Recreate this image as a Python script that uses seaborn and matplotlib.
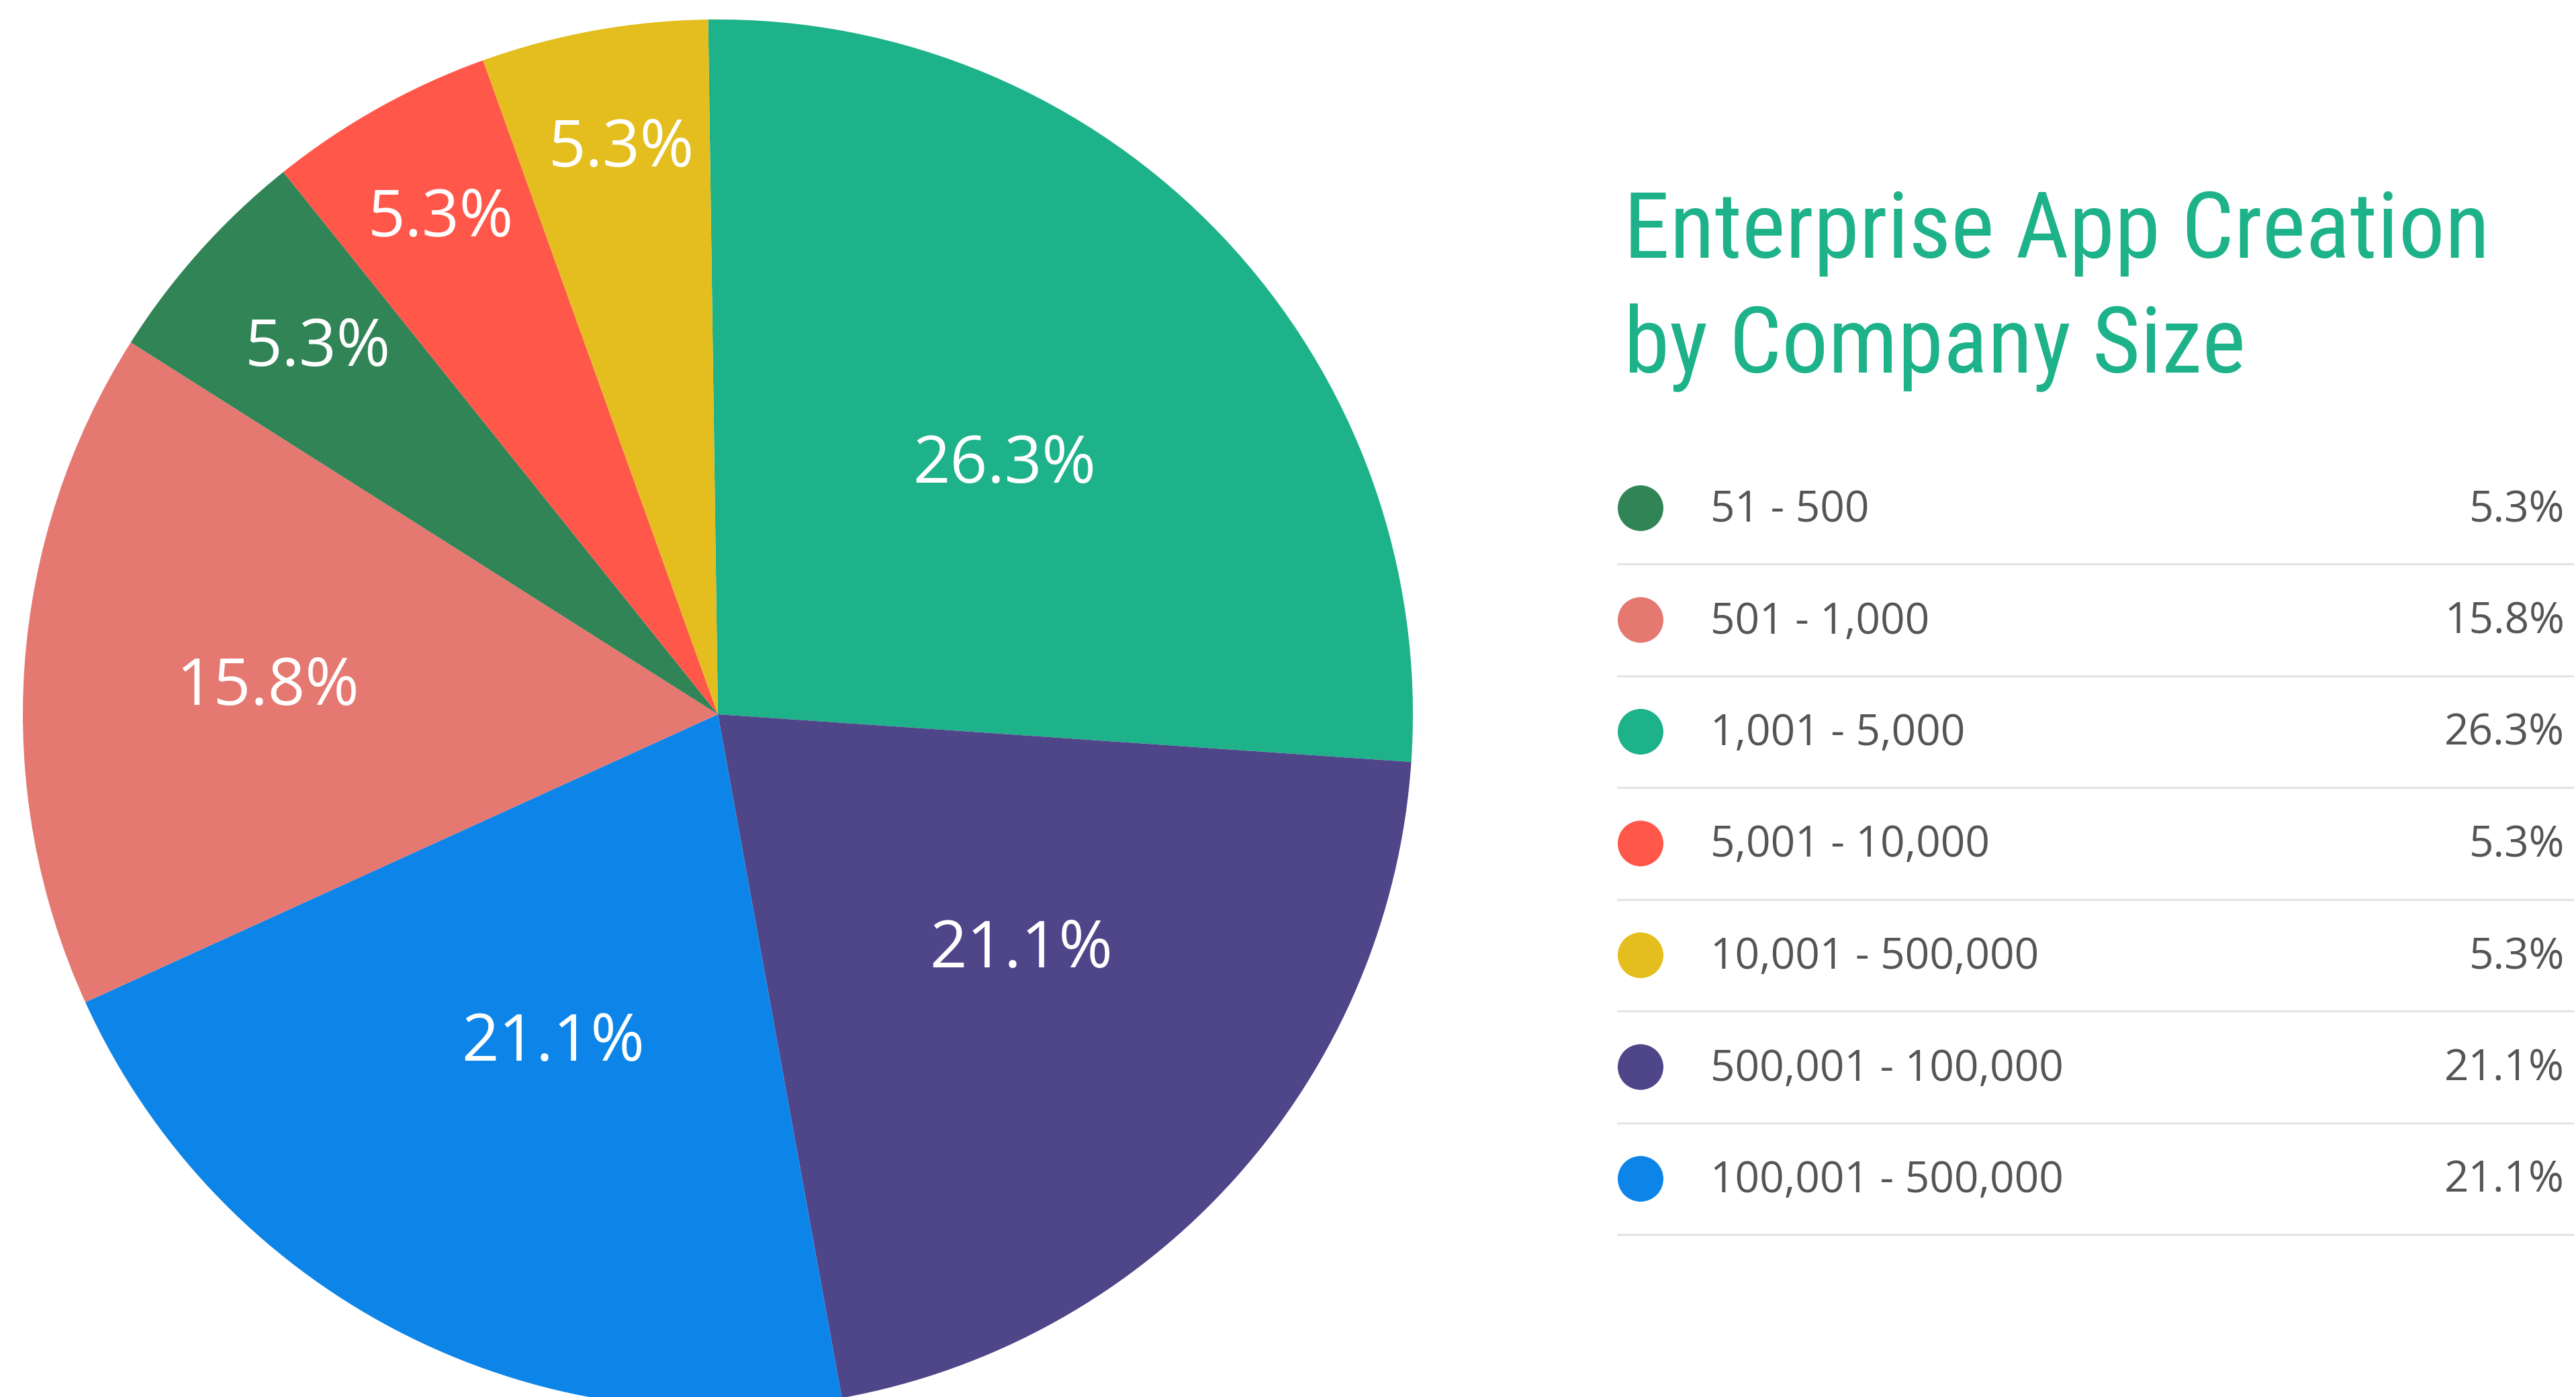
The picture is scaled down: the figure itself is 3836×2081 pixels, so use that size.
import matplotlib
matplotlib.use("Agg")
import matplotlib.pyplot as plt
from matplotlib import font_manager as fm
import seaborn as sns
import pandas as pd
import numpy as np

# Data: company-size buckets and number of enterprise apps created
categories = ["51 - 500", "501 - 1,000", "1,001 - 5,000", "5,001 - 10,000",
              "10,001 - 500,000", "500,001 - 100,000", "100,001 - 500,000"]
counts = [1, 3, 5, 1, 1, 4, 4]
colors = ["#318455", "#E57871", "#1EB28A", "#FF574A", "#E3BE1E", "#4F4589", "#0D85E8"]

# Clockwise drawing order of the wedges
pie_order = [2, 5, 6, 1, 0, 3, 4]
# Wedge label placement (drawing order): radius fraction and angular nudge
label_radius = [0.546, 0.553, 0.53, 0.649, 0.78, 0.816, 0.825]
label_nudge_deg = [-2.5, 3.9, 1.0, 0.6, -0.6, 0.0, -0.6]

title_lines = ["Enterprise App Creation", "by Company Size"]

total = sum(counts)
pct_text = [f"{100 * c / total:.1f}%" for c in counts]

sns.set_theme(style="white")
plt.rcParams["font.family"] = ["Open Sans", "DejaVu Sans"]


def pick_title_font():
    """Prefer a narrow sans for the heading, falling back to Roboto."""
    entries = {(f.name, f.stretch) for f in fm.fontManager.ttflist}
    names = {n for n, _ in entries}
    for fam in ["Liberation Sans Narrow", "Roboto Condensed", "Open Sans Condensed",
                "DejaVu Sans Condensed"]:
        if fam in names:
            return dict(family=fam)
    if ("DejaVu Sans", "condensed") in entries or ("DejaVu Sans", 600) in entries:
        return dict(family="DejaVu Sans", stretch="condensed")
    return dict(family="Roboto")


W, H = 3836, 2081
fig = plt.figure(figsize=(W / 100, H / 100), dpi=100)
ax = fig.add_axes([0, 0, 1, 1])
ax.set_xlim(0, W)
ax.set_ylim(0, H)

# Pie (pixel-based data space, y measured upward)
cx, cy, r = 1069, H - 1064, 1035
wedges, _ = ax.pie([counts[i] for i in pie_order],
                   colors=[colors[i] for i in pie_order],
                   startangle=90.8, counterclock=False,
                   center=(cx, cy), radius=r,
                   wedgeprops=dict(linewidth=0))

for w, lr, nd, i in zip(wedges, label_radius, label_nudge_deg, pie_order):
    ang = np.deg2rad((w.theta1 + w.theta2) / 2 + nd)
    ax.text(cx + lr * r * np.cos(ang), cy + lr * r * np.sin(ang), pct_text[i],
            color="white", fontsize=70, ha="center", va="center")

ax.set_xlim(0, W)
ax.set_ylim(0, H)
ax.set_aspect("equal")

# Heading: fit the first line to its target width without exceeding cap size
tfont = pick_title_font()
target_w, max_size = 1290, 102
probe = ax.text(2418, H - 384, title_lines[0], fontsize=max_size, **tfont)
fig.canvas.draw()
bw = probe.get_window_extent().width
probe.remove()
tsize = min(max_size, max_size * target_w / bw)
for k, line in enumerate(title_lines):
    ax.text(2418, H - (384 + 171 * k), line, color="#1EB28A", fontsize=tsize,
            ha="left", va="baseline", **tfont)

# Legend table
row_top, row_step = 757, 166.5
rows_y = [H - (row_top + k * row_step) for k in range(len(categories))]
legend_df = pd.DataFrame({"x": [2443] * len(categories), "y": rows_y,
                          "category": categories})
sns.scatterplot(data=legend_df, x="x", y="y", hue="category",
                palette=colors, s=2400, linewidth=0, legend=False, ax=ax)

for k, (cat, pt) in enumerate(zip(categories, pct_text)):
    y = rows_y[k]
    ax.text(2547, y - 20, cat, color="#555555", fontsize=46,
            ha="left", va="baseline")
    ax.text(3819, y - 20, pt, color="#555555", fontsize=46,
            ha="right", va="baseline")
    ax.hlines(y - 83, 2408, 3833, color="#E3E3E3", linewidth=2.2)

ax.set_xlim(0, W)
ax.set_ylim(0, H)
ax.axis("off")
ax.set_xlabel("")
ax.set_ylabel("")

fig.savefig("out.png", dpi=100, facecolor="white")
